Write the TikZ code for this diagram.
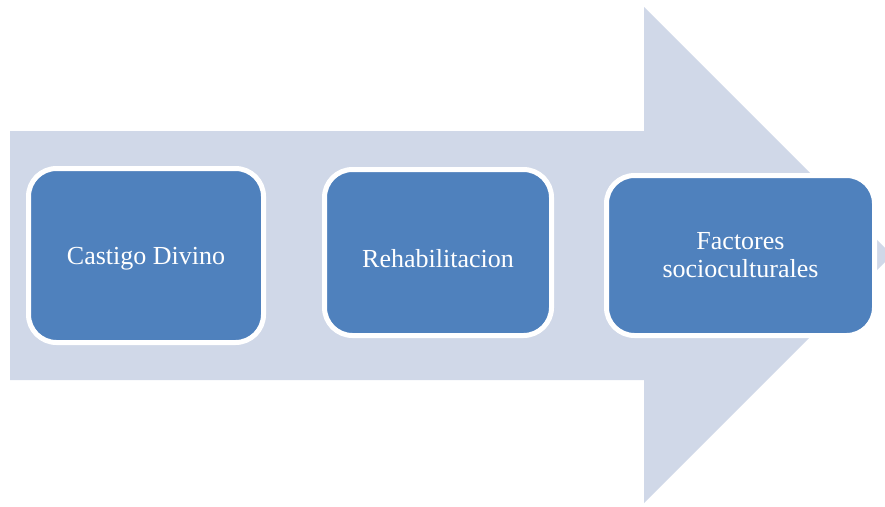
\documentclass[tikz,border=0pt]{standalone}
\usepackage{fontspec}
\setmainfont{Liberation Serif}
\definecolor{arrowfill}{HTML}{D0D8E8}
\definecolor{boxfill}{HTML}{4F81BD}
\begin{document}
\begin{tikzpicture}[x=1pt,y=-1pt,
  stagebox/.style={draw=white, line width=5pt, fill=boxfill, rounded corners=28pt,
    text=white, font=\fontsize{26}{28}\selectfont, align=center, inner sep=0pt}]
\clip (0,0) rectangle (885,506);
\fill[white] (0,0) rectangle (885,506);
\fill[arrowfill] (10,131) -- (644,131) -- (644,7) -- (892,255) -- (644,503) -- (644,380) -- (10,380) -- cycle;
\node[stagebox, minimum width=235pt, minimum height=174pt, text height=17pt, text depth=0pt] (b1) at (146,255.5) {Castigo Divino};
\node[stagebox, minimum width=227pt, minimum height=166pt, text height=29pt, text depth=0pt] (b2) at (438,252.5) {Rehabilitacion};
\node[stagebox, minimum width=268pt, minimum height=160pt] (b3) at (740.5,255.5) {Factores\\socioculturales};
\end{tikzpicture}
\end{document}
